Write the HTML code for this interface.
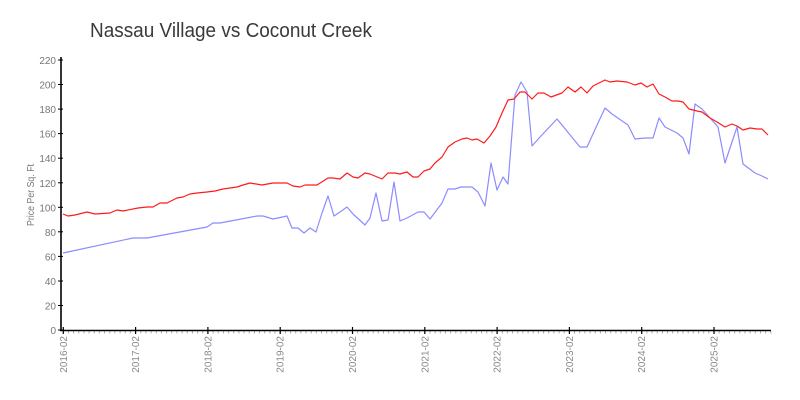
<!DOCTYPE html>
<html>
<head>
<meta charset="utf-8">
<style>
html,body{margin:0;padding:0;background:#fff;}
svg{display:block;}
text{font-family:"Liberation Sans",sans-serif;}
</style>
</head>
<body>
<svg width="800" height="400" viewBox="0 0 800 400" xmlns="http://www.w3.org/2000/svg">
<rect width="800" height="400" fill="#fff"/>
<text x="90" y="37" font-size="20" fill="#3a3a3a" textLength="282" lengthAdjust="spacingAndGlyphs">Nassau Village vs Coconut Creek</text>

<!-- y label -->
<text transform="translate(34,195) rotate(-90)" text-anchor="middle" font-size="10" fill="#777" textLength="62" lengthAdjust="spacingAndGlyphs">Price Per Sq. Ft</text>

<!-- y ticks & labels -->
<g stroke="#000" stroke-width="1">
<line x1="58" y1="330" x2="63" y2="330"/>
<line x1="58" y1="305.5" x2="63" y2="305.5"/>
<line x1="58" y1="281" x2="63" y2="281"/>
<line x1="58" y1="256.4" x2="63" y2="256.4"/>
<line x1="58" y1="231.8" x2="63" y2="231.8"/>
<line x1="58" y1="207.3" x2="63" y2="207.3"/>
<line x1="58" y1="182.8" x2="63" y2="182.8"/>
<line x1="58" y1="158.2" x2="63" y2="158.2"/>
<line x1="58" y1="133.6" x2="63" y2="133.6"/>
<line x1="58" y1="109.1" x2="63" y2="109.1"/>
<line x1="58" y1="84.5" x2="63" y2="84.5"/>
<line x1="58" y1="60" x2="63" y2="60"/>
</g>
<g font-size="10" fill="#777" text-anchor="end">
<text x="56" y="334">0</text>
<text x="56" y="309.5">20</text>
<text x="56" y="285">40</text>
<text x="56" y="260.4">60</text>
<text x="56" y="235.8">80</text>
<text x="56" y="211.3">100</text>
<text x="56" y="186.8">120</text>
<text x="56" y="162.2">140</text>
<text x="56" y="137.6">160</text>
<text x="56" y="113.1">180</text>
<text x="56" y="88.5">200</text>
<text x="56" y="64">220</text>
</g>

<!-- minor x ticks -->
<g stroke="#aaa" stroke-width="1" id="minor"></g>

<!-- axes -->
<line x1="61" y1="57" x2="61" y2="331" stroke="#000" stroke-width="1.6"/>
<line x1="60" y1="330.5" x2="771" y2="330.5" stroke="#000" stroke-width="1.5"/>

<!-- major x ticks -->
<g stroke="#000" stroke-width="1.2">
<line x1="63.3" y1="327" x2="63.3" y2="334"/>
<line x1="135.6" y1="327" x2="135.6" y2="334"/>
<line x1="207.9" y1="327" x2="207.9" y2="334"/>
<line x1="280.2" y1="327" x2="280.2" y2="334"/>
<line x1="352.5" y1="327" x2="352.5" y2="334"/>
<line x1="424.8" y1="327" x2="424.8" y2="334"/>
<line x1="497.1" y1="327" x2="497.1" y2="334"/>
<line x1="569.4" y1="327" x2="569.4" y2="334"/>
<line x1="641.7" y1="327" x2="641.7" y2="334"/>
<line x1="714" y1="327" x2="714" y2="334"/>
</g>
<g font-size="10" fill="#888" text-anchor="end">
<text transform="translate(66.8,336) rotate(-90)">2016-02</text>
<text transform="translate(139.1,336) rotate(-90)">2017-02</text>
<text transform="translate(211.4,336) rotate(-90)">2018-02</text>
<text transform="translate(283.7,336) rotate(-90)">2019-02</text>
<text transform="translate(356,336) rotate(-90)">2020-02</text>
<text transform="translate(428.3,336) rotate(-90)">2021-02</text>
<text transform="translate(500.6,336) rotate(-90)">2022-02</text>
<text transform="translate(572.9,336) rotate(-90)">2023-02</text>
<text transform="translate(645.2,336) rotate(-90)">2024-02</text>
<text transform="translate(717.5,336) rotate(-90)">2025-02</text>
</g>

<!-- blue series -->
<polyline fill="none" stroke="#8c8cff" stroke-width="1.2" stroke-linejoin="round" points="63,253 133,238 147,238 207,227 213,223 220,223 257,216 263,216 273,219 287,216 292,228 298,228 304,233 310,228 316,232 322,213 328,196 334,216 340,212 347,207 353,214 365,225 370,218 376,193 382,221 388,220 394,182 400,221 407,218 418,212 424,212 430,219 442,203 448,189 455,189 461,187 472,187 478,192 485,206 491,163 497,190 503,177 508,184 515,95 521,82 527,92 532,146 540,137 557,119 580,147 587,147 598,123 605,108 612,114 628,125 635,139 645,138 653,138 659,118 665,127 677,133 683,138 689,154 695,104 702,109 718,127 725,163 737,127 743,164 755,173 762,176 768,179"/>

<!-- red series -->
<polyline fill="none" stroke="#ff1a1a" stroke-width="1.2" stroke-linejoin="round" points="63,214 68,216 75,215 87,212 95,214 110,213 117,210 123,211 138,208 147,207 153,207 160,203 167,203 177,198 183,197 190,194 197,193 207,192 215,191 223,189 237,187 243,185 250,183 262,185 273,183 287,183 293,186 300,187 305,185 317,185 328,178 333,178 340,179 347,173 353,177 358,178 365,173 370,174 382,179 388,173 395,173 400,174 407,172 413,177 418,177 424,171 430,169 435,163 442,157 448,147 455,142 462,139 467,138 472,140 477,139 484,143 490,136 496,127 502,113 508,100 514,99 520,92 525,92 532,99 538,93 544,93 551,97 562,93 568,87 575,92 581,87 587,93 593,86 605,80 610,82 617,81 627,82 635,85 641,83 647,87 653,84 659,94 665,97 672,101 678,101 683,102 689,109 697,111 702,112 710,118 717,122 725,127 732,124 737,126 743,130 750,128 757,129 762,129 768,135"/>

<script>
(function(){
  var g=document.getElementById('minor');
  var ns='http://www.w3.org/2000/svg';
  var step=72.3/14;
  for(var x=63.3+step;x<771;x+=step){
    var l=document.createElementNS(ns,'line');
    l.setAttribute('x1',x.toFixed(1));l.setAttribute('x2',x.toFixed(1));
    l.setAttribute('y1','331');l.setAttribute('y2','333.5');
    g.appendChild(l);
  }
})();
</script>
</svg>
</body>
</html>
